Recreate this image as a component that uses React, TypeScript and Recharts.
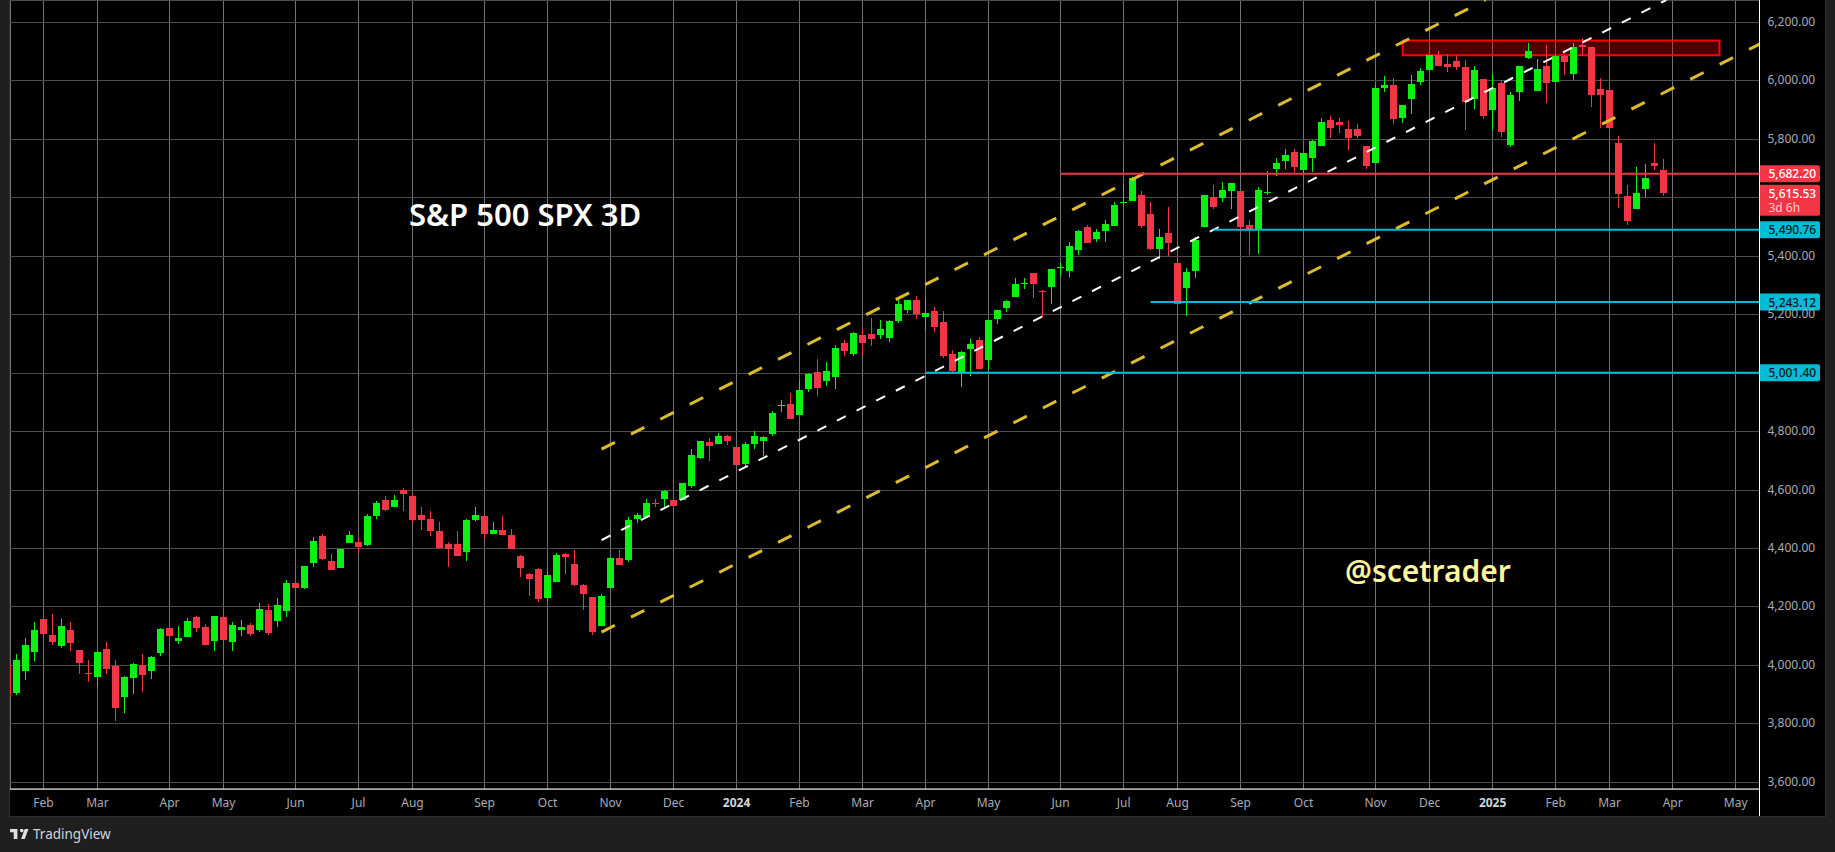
import React from "react";
import {
  ComposedChart, Bar, XAxis, YAxis, CartesianGrid, ReferenceLine, ReferenceArea,
} from "recharts";

const FONT = '"Noto Sans", sans-serif';
const GREEN = "#0cf014";
const RED = "#f23645";
const CYAN = "#00bcd4";
const YELLOW = "#dcbc2c";

// first candle sits at index -1 and is almost fully cut off by the left edge
const FIRST_INDEX = -1;

const opens = [
  4000,
  3905, 3981, 4047, 4159, 4104, 4066, 4121, 4053, 3974, 3960,
  4056, 3998, 3892, 3957, 4001, 3981, 4042, 4128, 4083, 4097,
  4166, 4131, 4083, 4166, 4080, 4121, 4138, 4121, 4190, 4152,
  4186, 4282, 4265, 4350, 4443, 4357, 4333, 4419, 4422, 4412,
  4511, 4566, 4542, 4600, 4580, 4515, 4501, 4460, 4415, 4415,
  4388, 4498, 4511, 4450, 4463, 4446, 4374, 4313, 4330, 4231,
  4285, 4381, 4347, 4275, 4234, 4135, 4265, 4367, 4361, 4501,
  4508, 4555, 4569, 4566, 4566, 4614, 4710, 4764, 4758, 4785,
  4747, 4689, 4758, 4768, 4792, 4889, 4895, 4857, 4946, 5004,
  4973, 4987, 5103, 5066, 5131, 5134, 5131, 5120, 5179, 5216,
  5250, 5192, 5213, 5175, 5066, 5004, 5083, 5114, 5045, 5185,
  5223, 5261, 5306, 5343, 5281, 5295, 5361, 5350, 5421, 5500,
  5459, 5487, 5504, 5585, 5589, 5610, 5545, 5425, 5480, 5377,
  5291, 5350, 5500, 5603, 5599, 5623, 5623, 5507, 5493, 5617,
  5699, 5726, 5757, 5695, 5736, 5777, 5866, 5860, 5836, 5836,
  5777, 5719, 5976, 5986, 5873, 5938, 5996, 6038, 6089, 6058,
  6068, 6048, 5938, 6007, 5901, 5993, 5781, 5962, 6079, 5966,
  6051, 5996, 6085, 6024, 6123, 6116, 5972, 5969, 5788, 5606,
  5562, 5630, 5719, 5695,
];
const highs = [
  4000,
  4039, 4094, 4149, 4196, 4176, 4159, 4149, 4053, 4018, 4046,
  4080, 4018, 3964, 4008, 4039, 4032, 4128, 4131, 4135, 4162,
  4169, 4142, 4169, 4186, 4149, 4155, 4145, 4214, 4210, 4231,
  4292, 4299, 4340, 4439, 4450, 4381, 4398, 4460, 4439, 4518,
  4563, 4580, 4583, 4607, 4587, 4542, 4528, 4491, 4422, 4460,
  4501, 4542, 4511, 4491, 4511, 4467, 4378, 4316, 4333, 4323,
  4385, 4385, 4395, 4279, 4234, 4244, 4371, 4395, 4508, 4522,
  4569, 4569, 4600, 4590, 4624, 4741, 4768, 4778, 4795, 4788,
  4747, 4764, 4802, 4785, 4871, 4908, 4932, 4977, 5001, 5049,
  5038, 5096, 5114, 5141, 5151, 5189, 5182, 5182, 5261, 5250,
  5264, 5257, 5226, 5213, 5079, 5076, 5117, 5124, 5182, 5216,
  5250, 5326, 5326, 5343, 5285, 5357, 5376, 5449, 5490, 5507,
  5493, 5524, 5586, 5644, 5671, 5623, 5586, 5493, 5569, 5377,
  5360, 5466, 5610, 5644, 5654, 5651, 5623, 5524, 5637, 5692,
  5736, 5767, 5767, 5753, 5798, 5873, 5880, 5873, 5863, 5853,
  5777, 5986, 6017, 6010, 5918, 6020, 6044, 6089, 6103, 6092,
  6089, 6072, 6051, 6007, 6024, 6003, 5962, 6051, 6130, 6075,
  6123, 6089, 6103, 6130, 6147, 6116, 6010, 5986, 5812, 5644,
  5706, 5716, 5788, 5733,
];
const lows = [
  3896,
  3899, 3950, 4015, 4107, 4070, 4060, 4049, 3971, 3943, 3930,
  3971, 3810, 3837, 3902, 3909, 3953, 4032, 4070, 4073, 4097,
  4114, 4070, 4049, 4087, 4049, 4101, 4101, 4114, 4104, 4131,
  4166, 4265, 4261, 4337, 4361, 4326, 4333, 4419, 4385, 4409,
  4501, 4528, 4542, 4528, 4487, 4463, 4443, 4402, 4337, 4374,
  4357, 4494, 4433, 4450, 4446, 4398, 4303, 4238, 4217, 4220,
  4285, 4313, 4272, 4190, 4104, 4135, 4265, 4343, 4354, 4487,
  4508, 4541, 4539, 4545, 4566, 4607, 4706, 4699, 4758, 4754,
  4686, 4679, 4741, 4717, 4785, 4867, 4843, 4857, 4936, 4922,
  4956, 4946, 5059, 5059, 5059, 5093, 5117, 5107, 5172, 5206,
  5185, 5148, 5141, 5052, 5004, 4953, 4990, 5014, 5011, 5168,
  5209, 5261, 5288, 5257, 5192, 5237, 5333, 5329, 5404, 5445,
  5449, 5449, 5504, 5575, 5589, 5497, 5421, 5391, 5401, 5120,
  5196, 5326, 5500, 5562, 5586, 5562, 5483, 5404, 5408, 5610,
  5675, 5699, 5685, 5678, 5688, 5777, 5805, 5822, 5764, 5805,
  5699, 5719, 5962, 5853, 5856, 5887, 5986, 6034, 6051, 6031,
  6038, 5832, 5904, 5870, 5832, 5808, 5774, 5931, 6075, 5966,
  5925, 5996, 6020, 6003, 6085, 5911, 5839, 5733, 5565, 5507,
  5562, 5603, 5695, 5606,
];
const closes = [
  3896,
  4018, 4070, 4121, 4107, 4080, 4135, 4077, 4008, 3972, 4046,
  3988, 3854, 3960, 4005, 3967, 4029, 4125, 4101, 4094, 4152,
  4128, 4070, 4169, 4087, 4138, 4131, 4107, 4193, 4111, 4207,
  4282, 4265, 4340, 4426, 4364, 4326, 4398, 4446, 4405, 4511,
  4556, 4532, 4566, 4587, 4498, 4498, 4460, 4402, 4398, 4374,
  4498, 4515, 4450, 4463, 4446, 4398, 4333, 4296, 4227, 4309,
  4378, 4371, 4275, 4244, 4114, 4238, 4367, 4344, 4498, 4515,
  4556, 4552, 4597, 4545, 4624, 4720, 4768, 4751, 4785, 4768,
  4686, 4758, 4785, 4782, 4864, 4891, 4843, 4942, 4997, 4949,
  5007, 5086, 5076, 5137, 5103, 5117, 5151, 5179, 5237, 5250,
  5203, 5206, 5158, 5059, 5007, 5072, 5100, 5014, 5182, 5216,
  5247, 5305, 5309, 5305, 5279, 5357, 5363, 5435, 5487, 5445,
  5483, 5510, 5575, 5587, 5668, 5504, 5425, 5466, 5445, 5237,
  5346, 5456, 5610, 5569, 5627, 5651, 5500, 5493, 5627, 5620,
  5719, 5747, 5706, 5753, 5795, 5860, 5839, 5849, 5805, 5812,
  5709, 5976, 5986, 5870, 5918, 5990, 6034, 6089, 6051, 6048,
  6048, 5928, 6038, 5880, 5976, 5825, 5952, 6051, 6103, 6041,
  5993, 6085, 6065, 6116, 6116, 5952, 5952, 5839, 5613, 5521,
  5617, 5668, 5709, 5615.53,
];

const xTicks = [3, 9, 17, 23, 31, 38, 44, 52, 59, 66, 73, 80, 87, 94, 101, 108, 116, 123, 129, 136, 143, 151, 157, 164, 171, 177, 184, 191];
const xTickLabels = ["Feb", "Mar", "Apr", "May", "Jun", "Jul", "Aug", "Sep", "Oct", "Nov", "Dec", "2024", "Feb", "Mar", "Apr", "May", "Jun", "Jul", "Aug", "Sep", "Oct", "Nov", "Dec", "2025", "Feb", "Mar", "Apr", "May"];
const yTicks = [3600, 3800, 4000, 4200, 4400, 4600, 4800, 5000, 5200, 5400, 5600, 5800, 6000, 6200];
// these two sit behind price tags in the original
const hiddenYTicks = [5000, 5600];

const X_DOMAIN = [-0.72, 193.65];
const Y_DOMAIN = [3577, 6277];

// channel: [x1, price1, x2, price2]
const channelUpper = [65, 4740, 163.2, 6277];
const channelMiddle = [65, 4429, 183.3, 6277];
const channelLower = [65, 4114, 193.65, 6126];

const resistanceLevel = 5682.2;
const resistanceStart = 116;
const supportLevels = [5490.76, 5243.12, 5001.4];
const supportStarts = [133, 126, 101];
const lastPrice = 5615.53;
const lastCountdown = "3d 6h";
const zone = [154, 189.2, 6088, 6138];

const candles = opens.map((open, i) => ({
  idx: FIRST_INDEX + i,
  open,
  high: highs[i],
  low: lows[i],
  close: closes[i],
}));

function fmtPrice(v: number): string {
  return v.toLocaleString("en-US", { minimumFractionDigits: 2, maximumFractionDigits: 2 });
}

function Candle(props: any) {
  const { x, y, width, height, payload } = props;
  if (height == null || !payload) return null;
  const { open, high, low, close } = payload;
  const perUnit = height / (high - low);
  const up = close >= open;
  const color = up ? GREEN : RED;
  const mid = Math.floor(x + width / 2) + 0.5;
  const top = Math.round(y + (high - Math.max(open, close)) * perUnit);
  const bottom = Math.round(y + (high - Math.min(open, close)) * perUnit);
  return (
    <g>
      <rect x={mid - 0.5} y={Math.round(y)} width={1} height={Math.max(1, Math.round(height))} fill={color} />
      <rect x={mid - 3.5} y={top} width={7} height={Math.max(1, bottom - top)} fill={color} />
    </g>
  );
}

// snap grid lines to whole pixels so they stay 1px and crisp
function gridLine(stroke: string) {
  return (p: any) => {
    const vertical = p.x1 === p.x2;
    const x = Math.floor(p.x1) + 0.5;
    const y = Math.floor(p.y1) + 0.5;
    return (
      <line
        key={p.key ?? p.index}
        x1={vertical ? x : p.x1} x2={vertical ? x : p.x2}
        y1={vertical ? p.y1 : y} y2={vertical ? p.y2 : y}
        stroke={stroke} strokeWidth={1}
      />
    );
  };
}

function XTick({ x, y, payload }: any) {
  const label = xTickLabels[xTicks.indexOf(payload.value)];
  const isYear = label.length === 4;
  return (
    <text
      x={x} y={y + 10} textAnchor="middle" fontFamily={FONT} fontSize={12}
      fontWeight={isYear ? 700 : 400} fill={isYear ? "#d1d4dc" : "#a9acb5"}
    >
      {label}
    </text>
  );
}

function YTick({ x, y, payload }: any) {
  if (hiddenYTicks.includes(payload.value)) return null;
  return (
    <text x={x} y={y + 3.5} fontFamily={FONT} fontSize={12} fill="#a9acb5">
      {fmtPrice(payload.value)}
    </text>
  );
}

function PriceTag({ viewBox, value, bg, fg, sub }: any) {
  const left = viewBox.x + viewBox.width;
  const top = viewBox.y - 8.5;
  const h = sub ? 31 : 17;
  return (
    <g>
      <path d={`M${left} ${top}h58.5a2 2 0 0 1 2 2v${h - 4}a2 2 0 0 1 -2 2h-58.5z`} fill={bg} />
      <text x={left + 9} y={top + 13} fontFamily={FONT} fontSize={12} fontWeight={500} fill={fg}>
        {fmtPrice(value)}
      </text>
      {sub && (
        <text x={left + 9} y={top + 27} fontFamily={FONT} fontSize={12} fill="#ffc9ce">
          {sub}
        </text>
      )}
    </g>
  );
}

function segmentOf(c: number[]) {
  return [{ x: c[0], y: c[1] }, { x: c[2], y: c[3] }];
}

export default function App() {
  return (
    <div style={{ position: "absolute", left: 0, top: 0, width: 1835, height: 852, background: "#1f1f1f", overflow: "hidden" }}>
      <div style={{ position: "absolute", left: 10, top: 0, width: 1815, height: 816, background: "#000", outline: "1px solid #2e2e2e" }}>
        <ComposedChart width={1815} height={816} data={candles} margin={{ top: 0, right: 0, bottom: 0, left: 0 }}>
          <CartesianGrid horizontal={false} vertical={gridLine("#737373")} />
          <CartesianGrid vertical={false} horizontal={gridLine("#4d4d4d")} />
          <XAxis
            dataKey="idx" type="number" domain={X_DOMAIN} ticks={xTicks} interval={0} allowDataOverflow
            height={27} stroke="#fff" tickLine={false} tick={<XTick />}
          />
          <YAxis
            orientation="right" type="number" domain={Y_DOMAIN} ticks={yTicks} interval={0} allowDataOverflow
            width={65.5} stroke="#fff" tickLine={false} tick={<YTick />}
          />
          <ReferenceLine segment={segmentOf(channelUpper)} ifOverflow="visible" stroke={YELLOW} strokeWidth={3} strokeDasharray="15 18" />
          <ReferenceLine segment={segmentOf(channelMiddle)} ifOverflow="visible" stroke="#fff" strokeWidth={2} strokeDasharray="10 12" />
          <ReferenceLine segment={segmentOf(channelLower)} ifOverflow="visible" stroke={YELLOW} strokeWidth={3} strokeDasharray="15 18" />
          <ReferenceArea
            x1={zone[0]} x2={zone[1]} y1={zone[2]} y2={zone[3]} ifOverflow="visible"
            fill="#ff0000" fillOpacity={0.3} stroke="#ff0000" strokeWidth={2}
          />
          <Bar dataKey={(d: any) => [d.low, d.high]} barSize={7} shape={<Candle />} isAnimationActive={false} />
          <ReferenceLine
            segment={[{ x: resistanceStart, y: resistanceLevel }, { x: X_DOMAIN[1], y: resistanceLevel }]}
            ifOverflow="visible" stroke={RED} strokeWidth={2}
            label={<PriceTag value={resistanceLevel} bg={RED} fg="#fff" />}
          />
          <ReferenceLine
            y={lastPrice} stroke="none" ifOverflow="visible"
            label={<PriceTag value={lastPrice} bg={RED} fg="#fff" sub={lastCountdown} />}
          />
          {supportLevels.map((lvl, i) => (
            <ReferenceLine
              key={lvl}
              segment={[{ x: supportStarts[i], y: lvl }, { x: X_DOMAIN[1], y: lvl }]}
              ifOverflow="visible" stroke={CYAN} strokeWidth={2}
              label={<PriceTag value={lvl} bg={CYAN} fg="#131722" />}
            />
          ))}
        </ComposedChart>
        <div style={{ position: "absolute", left: 1749, top: 789, width: 1, height: 27, background: "#fff" }} />
        <div style={{ position: "absolute", left: 399, top: 193, fontFamily: FONT, fontSize: 31, fontWeight: 600, color: "#fff", whiteSpace: "nowrap", lineHeight: "42px" }}>
          S&amp;P 500 SPX 3D
        </div>
        <div style={{ position: "absolute", left: 1335, top: 550, fontFamily: FONT, fontSize: 30, fontWeight: 600, color: "#fff59d", whiteSpace: "nowrap", lineHeight: "42px" }}>
          @scetrader
        </div>
      </div>
      <svg style={{ position: "absolute", left: 10, top: 829 }} width={19} height={10} viewBox="0 6 36 19" fill="#e0e0e0">
        <path d="M14 6H0v6h7v13h7V6zm14 19h-7l7-19h7l-7 19zm-7-13a3.5 3.5 0 1 0 0-6.5 3.5 3.5 0 0 0 0 6.5z" />
      </svg>
      <div style={{ position: "absolute", left: 33, top: 825, fontFamily: FONT, fontSize: 13.5, color: "#d1d4dc", lineHeight: "18px" }}>
        TradingView
      </div>
    </div>
  );
}
